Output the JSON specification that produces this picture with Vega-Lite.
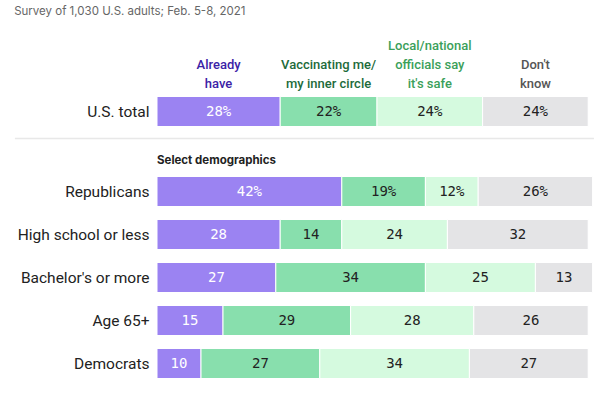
{
  "$schema": "https://vega.github.io/schema/vega-lite/v6.json",
  "background": "white",
  "padding": {"left": 14, "top": 6, "right": 0, "bottom": 0},
  "title": {"text": "Survey of 1,030 U.S. adults; Feb. 5-8, 2021", "anchor": "start", "frame": "bounds", "fontSize": 11.5, "fontWeight": "normal", "color": "#666666", "font": "Inter", "offset": 22},
  "datasets": {
    "survey": [
      {"group": "U.S. total", "category": "Already have", "value": 28},
      {"group": "U.S. total", "category": "Vaccinating me/my inner circle", "value": 22},
      {"group": "U.S. total", "category": "Local/national officials say it's safe", "value": 24},
      {"group": "U.S. total", "category": "Don't know", "value": 24},
      {"group": "Republicans", "category": "Already have", "value": 42},
      {"group": "Republicans", "category": "Vaccinating me/my inner circle", "value": 19},
      {"group": "Republicans", "category": "Local/national officials say it's safe", "value": 12},
      {"group": "Republicans", "category": "Don't know", "value": 26},
      {"group": "High school or less", "category": "Already have", "value": 28},
      {"group": "High school or less", "category": "Vaccinating me/my inner circle", "value": 14},
      {"group": "High school or less", "category": "Local/national officials say it's safe", "value": 24},
      {"group": "High school or less", "category": "Don't know", "value": 32},
      {"group": "Bachelor's or more", "category": "Already have", "value": 27},
      {"group": "Bachelor's or more", "category": "Vaccinating me/my inner circle", "value": 34},
      {"group": "Bachelor's or more", "category": "Local/national officials say it's safe", "value": 25},
      {"group": "Bachelor's or more", "category": "Don't know", "value": 13},
      {"group": "Age 65+", "category": "Already have", "value": 15},
      {"group": "Age 65+", "category": "Vaccinating me/my inner circle", "value": 29},
      {"group": "Age 65+", "category": "Local/national officials say it's safe", "value": 28},
      {"group": "Age 65+", "category": "Don't know", "value": 26},
      {"group": "Democrats", "category": "Already have", "value": 10},
      {"group": "Democrats", "category": "Vaccinating me/my inner circle", "value": 27},
      {"group": "Democrats", "category": "Local/national officials say it's safe", "value": 34},
      {"group": "Democrats", "category": "Don't know", "value": 27}
    ],
    "headers": [
      {"category": "Already have", "lines": ["", "Already", "have"]},
      {"category": "Vaccinating me/my inner circle", "lines": ["", "Vaccinating me/", "my inner circle"]},
      {"category": "Local/national officials say it's safe", "lines": ["Local/national", "officials say", "it's safe"]},
      {"category": "Don't know", "lines": ["", "Don't", "know"]}
    ]
  },
  "data": {"name": "survey"},
  "transform": [
    {"calculate": "indexof(['Already have','Vaccinating me/my inner circle','Local/national officials say it\\'s safe','Don\\'t know'], datum.category)", "as": "ord"},
    {"stack": "value", "groupby": ["group"], "sort": [{"field": "ord", "order": "ascending"}], "as": ["x0", "x1"]},
    {"calculate": "(datum.x0 + datum.x1) / 2", "as": "mid"},
    {"calculate": "datum.value + ((datum.group === 'U.S. total' || datum.group === 'Republicans') ? '%' : '')", "as": "label"}
  ],
  "bounds": "flush",
  "spacing": 37,
  "config": {
    "view": {"stroke": null},
    "axis": {"labelFont": "Roboto", "labelFontSize": 15.5, "labelColor": "#222222", "labelPadding": 8, "ticks": false, "domain": false, "grid": false, "title": null}
  },
  "vconcat": [
    {
      "width": 440,
      "height": 43,
      "transform": [{"filter": "datum.group === 'U.S. total'"}],
      "layer": [
        {
          "mark": {"type": "bar", "stroke": "white", "strokeWidth": 1},
          "encoding": {
            "x": {"field": "x0", "type": "quantitative", "scale": {"domain": [0, 100]}, "axis": null},
            "x2": {"field": "x1"},
            "y": {"field": "group", "type": "nominal", "scale": {"paddingInner": 0.302, "paddingOuter": 0.151}, "axis": {}},
            "color": {"field": "category", "type": "nominal", "legend": null,
              "scale": {"domain": ["Already have", "Vaccinating me/my inner circle", "Local/national officials say it's safe", "Don't know"], "range": ["#9b83f2", "#88dfad", "#d5fadf", "#e4e4e6"]}}
          }
        },
        {
          "mark": {"type": "text", "font": "DejaVu Sans Mono", "fontSize": 14, "align": "center", "baseline": "middle"},
          "encoding": {
            "x": {"field": "mid", "type": "quantitative"},
            "y": {"field": "group", "type": "nominal"},
            "text": {"field": "label"},
            "color": {"condition": {"test": "datum.category === 'Already have'", "value": "white"}, "value": "#222222"}
          }
        },
        {
          "transform": [{"lookup": "category", "from": {"data": {"name": "headers"}, "key": "category", "fields": ["lines"]}}],
          "mark": {"type": "text", "font": "Roboto", "fontSize": 13, "fontWeight": 500, "align": "center", "baseline": "alphabetic", "lineHeight": 19, "dy": -62},
          "encoding": {
            "x": {"field": "mid", "type": "quantitative"},
            "y": {"field": "group", "type": "nominal"},
            "text": {"field": "lines"},
            "color": {"field": "category", "type": "nominal", "legend": null,
              "scale": {"domain": ["Already have", "Vaccinating me/my inner circle", "Local/national officials say it's safe", "Don't know"], "range": ["#3b22a6", "#1d6b3b", "#3ba05a", "#555555"]}}
          }
        }
      ],
      "resolve": {"scale": {"color": "independent"}}
    },
    {
      "width": 440,
      "height": 215,
      "transform": [{"filter": "datum.group !== 'U.S. total'"}],
      "layer": [
        {
          "data": {"values": [{"t": 0}]},
          "mark": {"type": "rule", "color": "#e8e8e8", "strokeWidth": 1.5, "yOffset": -53},
          "encoding": {
            "x": {"datum": -32.3},
            "x2": {"datum": 99.3},
            "y": {"datum": "Republicans"}
          }
        },
        {
          "data": {"values": [{"label": "Select demographics"}]},
          "mark": {"type": "text", "font": "Inter", "fontSize": 11.5, "fontWeight": "bold", "align": "left", "baseline": "middle", "dy": -31, "color": "#222222"},
          "encoding": {
            "x": {"datum": 0},
            "y": {"datum": "Republicans"},
            "text": {"field": "label"}
          }
        },
        {
          "mark": {"type": "bar", "stroke": "white", "strokeWidth": 1},
          "encoding": {
            "x": {"field": "x0", "type": "quantitative", "scale": {"domain": [0, 100]}, "axis": null},
            "x2": {"field": "x1"},
            "y": {"field": "group", "type": "nominal", "scale": {"domain": ["Republicans", "High school or less", "Bachelor's or more", "Age 65+", "Democrats"], "paddingInner": 0.302, "paddingOuter": 0.151}, "axis": {}},
            "color": {"field": "category", "type": "nominal", "legend": null,
              "scale": {"domain": ["Already have", "Vaccinating me/my inner circle", "Local/national officials say it's safe", "Don't know"], "range": ["#9b83f2", "#88dfad", "#d5fadf", "#e4e4e6"]}}
          }
        },
        {
          "mark": {"type": "text", "font": "DejaVu Sans Mono", "fontSize": 14, "align": "center", "baseline": "middle"},
          "encoding": {
            "x": {"field": "mid", "type": "quantitative"},
            "y": {"field": "group", "type": "nominal"},
            "text": {"field": "label"},
            "color": {"condition": {"test": "datum.category === 'Already have'", "value": "white"}, "value": "#222222"}
          }
        }
      ]
    }
  ]
}
